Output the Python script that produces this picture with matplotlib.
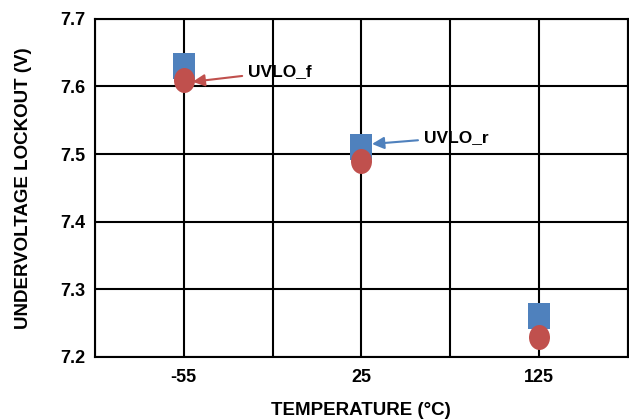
import numpy as np
import matplotlib.pyplot as plt
from matplotlib.path import Path
from matplotlib.transforms import Affine2D

plt.rcParams['font.family'] = ['Liberation Sans', 'DejaVu Sans']

temps = ['-55', '25', '125']
uvlo_r = [7.63, 7.51, 7.26]
uvlo_f = [7.61, 7.49, 7.23]

blue = '#4F81BD'
red = '#C0504D'

# tall rectangle and tall ellipse markers like the original
rect = Path([(-11, -13.5), (11, -13.5), (11, 13.5), (-11, 13.5), (-11, -13.5)],
            [Path.MOVETO, Path.LINETO, Path.LINETO, Path.LINETO, Path.CLOSEPOLY])
ell = Path.unit_circle().transformed(Affine2D().scale(10.5, 12.5))

fig = plt.figure(figsize=(6.29, 4.19), dpi=100)
ax = fig.add_axes([0.151, 0.148, 0.847, 0.807])

xpos = [1, 3, 5]
ax.plot(xpos, uvlo_r, linestyle='none', marker=rect, markersize=19.4,
        color=blue, markeredgewidth=0, zorder=3, clip_on=False)
ax.plot(xpos, uvlo_f, linestyle='none', marker=ell, markersize=18.0,
        color=red, markeredgewidth=0, zorder=4, clip_on=False)

ax.set_xlim(0, 6)
ax.set_ylim(7.2, 7.7)
ax.set_xticks(xpos)
ax.set_xticklabels(temps)
ax.set_xticks(np.arange(0, 7, 1), minor=True)
ax.set_yticks(np.arange(7.2, 7.71, 0.1))
ax.yaxis.set_major_formatter(plt.FormatStrFormatter('%.1f'))

ax.grid(True, which='both', axis='x', color='black', linewidth=1.5)
ax.grid(True, which='major', axis='y', color='black', linewidth=1.5)
ax.set_axisbelow(True)
for s in ax.spines.values():
    s.set_color('black')
    s.set_linewidth(1.5)

ax.tick_params(which='both', length=0)
ax.tick_params(axis='y', pad=7, labelsize=13)
ax.tick_params(axis='x', pad=9, labelsize=13)
for lbl in ax.get_xticklabels() + ax.get_yticklabels():
    lbl.set_fontweight('bold')

ax.set_xlabel('TEMPERATURE (°C)', fontsize=13.5, fontweight='bold', labelpad=11.5)
ax.set_ylabel('UNDERVOLTAGE LOCKOUT (V)', fontsize=13.5, fontweight='bold', labelpad=20)

ax.annotate('UVLO_f', xy=(1.1, 7.607), xytext=(1.72, 7.622),
            fontsize=12.5, fontweight='bold', va='center', ha='left',
            arrowprops=dict(arrowstyle='-|>', color=red, lw=1.5,
                            mutation_scale=18, shrinkA=2, shrinkB=0))
ax.annotate('UVLO_r', xy=(3.12, 7.515), xytext=(3.7, 7.525),
            fontsize=12.5, fontweight='bold', va='center', ha='left',
            arrowprops=dict(arrowstyle='-|>', color=blue, lw=1.5,
                            mutation_scale=18, shrinkA=2, shrinkB=0))

fig.savefig('out.png', dpi=100)
